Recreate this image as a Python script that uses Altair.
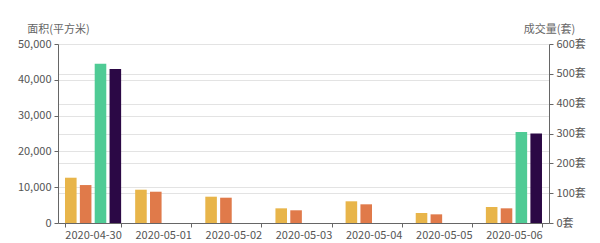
import altair as alt
import pandas as pd

dates = ["2020-04-30", "2020-05-01", "2020-05-02", "2020-05-03", "2020-05-04", "2020-05-05", "2020-05-06"]
series_names = ["商品房成交面积", "住宅成交面积", "商品房成交套数", "住宅成交套数"]
area_a = [12650, 9300, 7350, 4100, 6060, 2790, 4470]
area_b = [10600, 8740, 7070, 3550, 5220, 2420, 4100]
units_a = [534, 0, 0, 0, 0, 0, 305]
units_b = [516, 0, 0, 0, 0, 0, 300]
colors = ["#E8B54A", "#E07A4A", "#4FCB95", "#2B0845"]
left_ticks = [0, 10000, 20000, 30000, 40000, 50000]
right_ticks = [0, 100, 200, 300, 400, 500, 600]

rows = []
for name, vals, side in [(series_names[0], area_a, "left"), (series_names[1], area_b, "left"),
                         (series_names[2], units_a, "right"), (series_names[3], units_b, "right")]:
    for d, v in zip(dates, vals):
        rows.append({"date": d, "series": name, "value": v, "side": side})
df = pd.DataFrame(rows)

FONT = "Noto Sans CJK SC"

x_enc = alt.X("date:N", sort=dates, title=None,
              scale=alt.Scale(paddingInner=0.2, paddingOuter=0.1),
              axis=alt.Axis(tickBand="extent", labelAngle=0, labelFontSize=11, labelColor="#555",
                            labelFont=FONT, domainColor="#666", tickColor="#666", tickSize=4,
                            labelPadding=2, labelBaseline="top", grid=False, labelBound=False))
xo_enc = alt.XOffset("series:N", sort=series_names,
                     scale=alt.Scale(domain=series_names, paddingInner=0.22, paddingOuter=0))
c_enc = alt.Color("series:N", scale=alt.Scale(domain=series_names, range=colors), legend=None)

base = alt.Chart(df)

left = base.transform_filter(alt.datum.side == "left").mark_bar().encode(
    x=x_enc, xOffset=xo_enc, color=c_enc,
    y=alt.Y("value:Q", scale=alt.Scale(domain=[0, 50000], nice=False),
            axis=alt.Axis(orient="left", values=left_ticks, format=",d", title="面积(平方米)",
                          titleAngle=0, titleX=0, titleY=-15, titleAlign="center",
                          titleBaseline="middle", titleFontWeight="normal", titleColor="#666",
                          titleFontSize=11, titleFont=FONT,
                          labelFontSize=11, labelColor="#555", labelFont=FONT,
                          domainColor="#666", tickColor="#666", tickSize=4, labelPadding=3,
                          grid=True, gridColor="#e3e3e3")),
)

right = base.transform_filter(alt.datum.side == "right").mark_bar().encode(
    x=x_enc, xOffset=xo_enc, color=c_enc,
    y=alt.Y("value:Q", scale=alt.Scale(domain=[0, 600], nice=False),
            axis=alt.Axis(orient="right", values=right_ticks, labelExpr="datum.value + '套'",
                          title="成交量(套)",
                          titleAngle=0, titleX=0, titleY=-15, titleAlign="center",
                          titleBaseline="middle", titleFontWeight="normal", titleColor="#666",
                          titleFontSize=11, titleFont=FONT,
                          labelFontSize=11, labelColor="#555", labelFont=FONT,
                          domainColor="#666", tickColor="#666", tickSize=4, labelPadding=3,
                          grid=True, gridColor="#e3e3e3")),
)

chart = alt.layer(left, right).resolve_scale(y="independent").properties(
    width=491, height=179,
    autosize=alt.AutoSizeParams(type="none"),
    padding={"left": 58, "top": 44, "right": 51, "bottom": 20},
).configure_view(stroke=None)

chart.save("out.html", embed_options={"renderer": "svg", "actions": False})
